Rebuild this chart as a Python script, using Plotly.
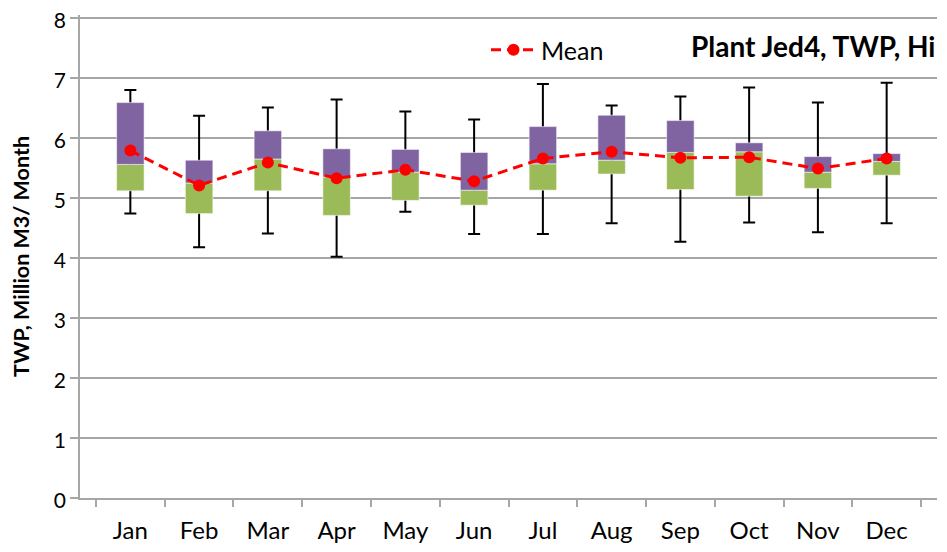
import plotly.graph_objects as go

months = ["Jan", "Feb", "Mar", "Apr", "May", "Jun", "Jul", "Aug", "Sep", "Oct", "Nov", "Dec"]
wmin = [4.74, 4.18, 4.41, 4.02, 4.77, 4.40, 4.40, 4.58, 4.27, 4.59, 4.43, 4.58]
q1 = [5.12, 4.74, 5.12, 4.71, 4.96, 4.88, 5.13, 5.40, 5.14, 5.03, 5.16, 5.38]
median = [5.56, 5.25, 5.65, 5.35, 5.43, 5.13, 5.57, 5.63, 5.76, 5.77, 5.43, 5.61]
q3 = [6.59, 5.63, 6.12, 5.82, 5.81, 5.76, 6.19, 6.38, 6.29, 5.92, 5.69, 5.74]
wmax = [6.80, 6.37, 6.51, 6.64, 6.44, 6.31, 6.90, 6.54, 6.69, 6.84, 6.59, 6.92]
mean = [5.79, 5.21, 5.59, 5.33, 5.47, 5.28, 5.66, 5.77, 5.67, 5.68, 5.49, 5.66]
ytick_vals = [0, 1, 2, 3, 4, 5, 6, 7, 8]

FONT = "Lato"
GRID = "#A6A6A6"

fig = go.Figure()

# whiskers (drawn first so boxes cover them)
fig.add_trace(go.Bar(
    x=months, y=wmax, width=0.4,
    marker=dict(color="rgba(0,0,0,0)", line=dict(width=0)),
    error_y=dict(type="data", symmetric=False,
                 array=[0] * len(months),
                 arrayminus=[a - b for a, b in zip(wmax, wmin)],
                 color="black", thickness=2, width=6),
    showlegend=False, hoverinfo="skip"))

# lower box part (Q1 -> median)
fig.add_trace(go.Bar(
    x=months, base=q1, y=[m - a for m, a in zip(median, q1)], width=0.4,
    marker=dict(color="#9BBB59", line=dict(color="rgba(255,255,255,0.55)", width=1)),
    showlegend=False))

# upper box part (median -> Q3)
fig.add_trace(go.Bar(
    x=months, base=median, y=[b - m for b, m in zip(q3, median)], width=0.4,
    marker=dict(color="#8064A2", line=dict(color="rgba(255,255,255,0.55)", width=1)),
    showlegend=False))

# mean line
fig.add_trace(go.Scatter(
    x=months, y=mean, mode="lines+markers", name="Mean",
    line=dict(color="#FF0000", width=3, dash="10px,6px"),
    marker=dict(color="#FF0000", size=12)))

# page has an 8px body margin; figure sized so it fills the 947x552 window
OFF = 8
W, H = 947 - OFF, 552 - OFF
EXTRA = 0.05            # small headroom so the top gridline (8) is drawn
UNIT = 60               # pixels per y unit in the reference
L, R, T, B = 80 - OFF, 10, 18 - OFF - UNIT * EXTRA, 54
pw = W - L - R
ph = H - T - B

def px_x(px):
    return (px - OFF - L) / pw

def px_y(py):
    return (H - B - (py - OFF)) / ph

fig.update_layout(
    width=W, height=H,
    barmode="overlay",
    paper_bgcolor="white", plot_bgcolor="white",
    margin=dict(l=L, r=R, t=T, b=B),
    font=dict(family=FONT, size=22, color="black"),
    showlegend=True,
    legend=dict(x=px_x(486), y=px_y(50), xanchor="left", yanchor="middle",
                bgcolor="rgba(0,0,0,0)", font=dict(size=25, family=FONT), itemwidth=45),
    xaxis=dict(
        automargin=False,
        showline=True, linecolor=GRID, linewidth=1.5,
        ticks="outside", tickson="boundaries", ticklen=7, tickcolor=GRID, tickwidth=1.5,
        ticklabelstandoff=10,
        tickfont=dict(size=24, family=FONT), showgrid=False),
    yaxis=dict(
        automargin=False,
        range=[0, 8 + EXTRA], tickvals=ytick_vals,
        showline=True, linecolor=GRID, linewidth=1.5,
        ticks="outside", ticklen=8, tickcolor=GRID, tickwidth=1.5,
        showgrid=True, gridcolor=GRID, gridwidth=1.5,
        ticklabeloverflow="allow", ticklabelshift=3,
        tickfont=dict(size=21, family=FONT),
        zeroline=False,
        title=dict(text="<b>TWP, Million M3/ Month</b>", font=dict(size=21.5, family=FONT), standoff=18)),
    annotations=[dict(
        text="<b>Plant Jed4, TWP, Hi</b>", x=px_x(689), y=px_y(46),
        xref="paper", yref="paper", xanchor="left", yanchor="middle",
        showarrow=False, font=dict(size=28, family=FONT))],
)

fig.write_html("out.html")
